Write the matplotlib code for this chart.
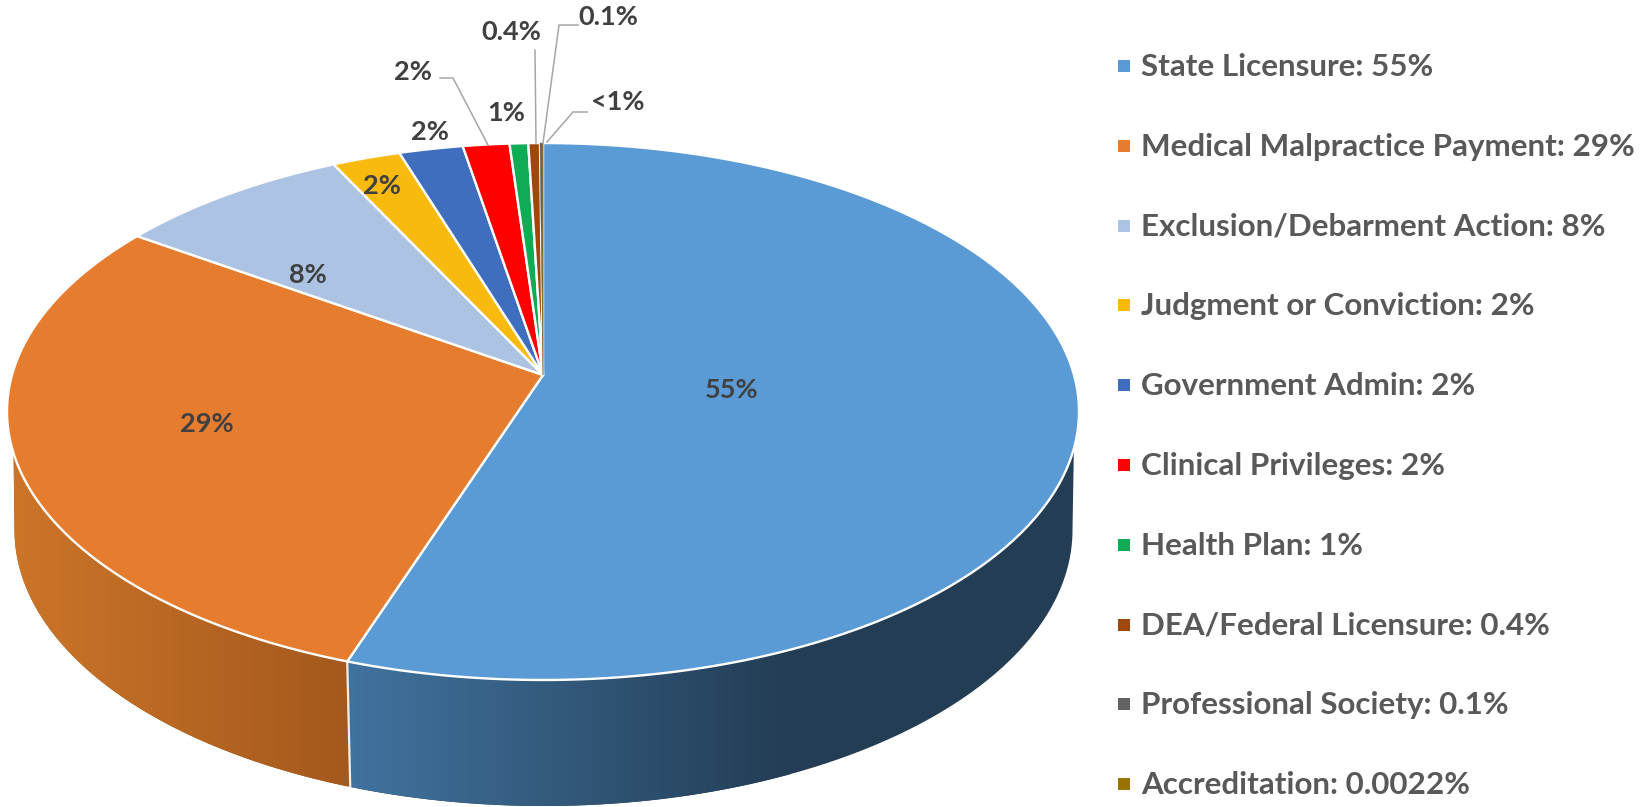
import numpy as np
import matplotlib
matplotlib.use("Agg")
import matplotlib.pyplot as plt
from matplotlib.colors import to_rgb
from matplotlib.patches import Polygon, Rectangle

# ---- data -------------------------------------------------------------
categories = ["State Licensure", "Medical Malpractice Payment", "Exclusion/Debarment Action",
              "Judgment or Conviction", "Government Admin", "Clinical Privileges", "Health Plan",
              "DEA/Federal Licensure", "Professional Society", "Accreditation"]
shares = [55.2, 29.4, 8.1, 2.35, 2.2, 1.6, 0.64, 0.4, 0.1, 0.0022]
legend_values = ["55%", "29%", "8%", "2%", "2%", "2%", "1%", "0.4%", "0.1%", "0.0022%"]
slice_labels = ["55%", "29%", "8%", "2%", "2%", "2%", "1%", "0.4%", "0.1%", "<1%"]
colors = ["#5B9BD5", "#E67C2E", "#ADC3E3", "#F8BA0C", "#3F6EBE", "#FF0000", "#10AB55",
          "#9E480E", "#636363", "#997300"]

# ---- layout -----------------------------------------------------------
W, H = 1642, 807
LABEL_XY = [(732, 390), (207, 424), (308, 275), (382, 186), (430, 132),
            (413, 72), (506, 113), (511, 32), (608, 17), (618, 102)]
LEADERS = {5: [(440, 78), (453, 78), (488, 145)],
           7: [(535, 50), (536, 143)],
           8: [(578, 25), (559, 25), (543, 143)],
           9: [(587, 112), (573, 112), (547, 142)]}
LEGEND_Y0, LEGEND_STEP = 66.0, 79.8
CX, CY, D, C, K = 543.0, 375.0, 531.0, 263.5, 0.136   # perspective top disc
LCX, LCY, LA, LB = 543.5, 530.0, 529.0, 276.0          # lower rim ellipse

plt.rcParams["font.family"] = ["Lato", "DejaVu Sans"]
fig = plt.figure(figsize=(W / 100, H / 100), dpi=100)
ax = fig.add_axes([0, 0, 1, 1])
ax.set_xlim(0, W)
ax.set_ylim(H, 0)
ax.axis("off")


def disc(theta):
    u, v = np.sin(theta), np.cos(theta)
    w = 1 + K * v
    return CX + D * u / w, CY - C * v / w


def lower(phi):
    return LCX + LA * np.sin(phi), LCY - LB * np.cos(phi)


def side(xs, ys, x0, x1, c0, c1):
    """Draw one rim piece with a horizontal colour gradient."""
    poly = Polygon(np.column_stack([xs, ys]), closed=True, fc=c1, ec="none", zorder=0.9)
    ax.add_patch(poly)
    t = np.linspace(0, 1, 256)[:, None]
    rgb = (1 - t) * np.array(to_rgb(c0)) + t * np.array(to_rgb(c1))
    im = ax.imshow(rgb[None, :, :], extent=(x0, x1, ys.max() + 2, ys.min() - 2),
                   aspect="auto", zorder=1, interpolation="bilinear")
    im.set_clip_path(poly)


fr = np.array(shares) / np.sum(shares)
edges = np.concatenate([[0], np.cumsum(fr)]) * 2 * np.pi

# rim: blue piece (first slice) and orange piece (second slice)
bx, by = disc(edges[1])
phi_b = np.pi + np.arcsin((LCX - bx - 3) / LA)

th = np.linspace(edges[1], 0, 400)
tx, ty = disc(th)
m = ty >= 448
lx, ly = lower(np.linspace(np.pi / 2, phi_b, 300))
xs = np.concatenate([tx[m], lx])
ys = np.concatenate([ty[m], ly])
side(xs, ys, bx, 790, "#41739F", "#233D54")

th = np.linspace(edges[1], edges[2], 400)
tx, ty = disc(th)
m = ty >= 453
lx, ly = lower(np.linspace(phi_b, 3 * np.pi / 2, 300))
xs = np.concatenate([tx[m], lx[::-1]])
ys = np.concatenate([ty[m], ly[::-1]])
side(xs, ys, 12, bx, "#CC7529", "#A4591D")

lx_b, ly_b = lower(phi_b)
ax.plot([bx, lx_b], [by, ly_b], color="#F3F0EC", lw=1.6, zorder=2, solid_capstyle="butt")

# top face
for i, c in enumerate(colors):
    th = np.linspace(edges[i], edges[i + 1], max(3, int(fr[i] * 800)))
    x, y = disc(th)
    pts = np.column_stack([np.r_[CX, x], np.r_[CY, y]])
    ax.add_patch(Polygon(pts, closed=True, fc=c, ec="#FFFFFF" if i < 8 else c,
                         lw=1.7 if i < 8 else 0.3, joinstyle="round", zorder=3))

# leaders
for pts in LEADERS.values():
    p = np.array(pts)
    ax.plot(p[:, 0], p[:, 1], color="#A6A6A6", lw=1.1, zorder=4)

# slice labels
for (x, y), s in zip(LABEL_XY, slice_labels):
    ax.text(x, y, s, ha="center", va="center", fontsize=19.5, color="#404040",
            fontweight="bold", zorder=5)

# legend
for i, (c, name, val) in enumerate(zip(colors, categories, legend_values)):
    y = LEGEND_Y0 + i * LEGEND_STEP
    ax.add_patch(Rectangle((1118, y - 6), 12, 12, fc=c, ec="none", zorder=5))
    ax.text(1141, y + 1, f"{name}: {val}", ha="left", va="center", fontsize=22.6,
            color="#595959", fontweight="bold", zorder=5)

ax.set_xlim(0, W)
ax.set_ylim(H, 0)
fig.savefig("out.png", dpi=100, facecolor="white")
